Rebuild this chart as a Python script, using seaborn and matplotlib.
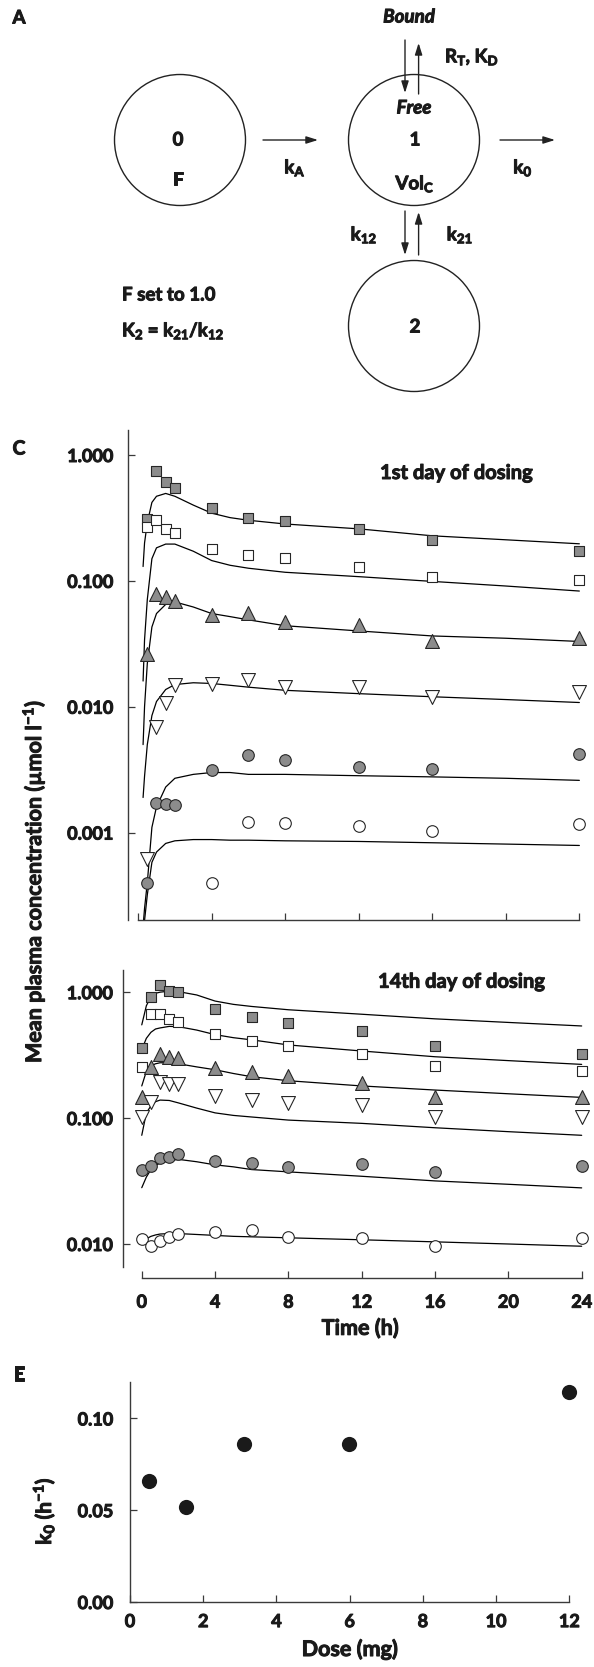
import matplotlib
matplotlib.use('Agg')
import matplotlib.pyplot as plt
import matplotlib.patheffects as pe
from matplotlib.patches import Circle
from matplotlib.text import Text
from matplotlib.ticker import FixedLocator, FixedFormatter, NullLocator
import seaborn as sns

sns.set_style('ticks')
plt.rcParams['font.family'] = ['Lato', 'DejaVu Sans']
plt.rcParams['font.weight'] = 'bold'
plt.rcParams['mathtext.fontset'] = 'custom'
plt.rcParams['mathtext.rm'] = 'Lato:bold'
plt.rcParams['mathtext.it'] = 'Lato:bold:italic'
plt.rcParams['mathtext.bf'] = 'Lato:bold'

BOLD = 'bold'

# ---- panel C, 1st day of dosing: observed means (umol/l) ----
t_d1 = [0.5, 1, 1.5, 2, 4, 6, 8, 12, 16, 24]
gsq_d1 = [0.309, 0.751, 0.614, 0.544, 0.377, 0.314, 0.299, 0.257, 0.212, 0.174]
osq_d1 = [0.270, 0.305, 0.259, 0.239, 0.178, 0.161, 0.153, 0.130, 0.107, 0.102]
gtri_d1 = [0.0263, 0.0788, 0.0738, 0.0686, 0.0540, 0.0560, 0.0470, 0.0448, 0.0334, 0.0351]
otri_d1 = [0.00062, 0.0069, 0.0107, 0.0150, 0.0152, 0.0162, 0.0143, 0.0143, 0.0119, 0.0132]
gcir_d1 = [0.00040, 0.00172, 0.00169, 0.00166, 0.00316, 0.00411, 0.00380, 0.00330, 0.00322, 0.00421]
t_ocir_d1 = [4, 6, 8, 12, 16, 24]
ocir_d1 = [0.00040, 0.00121, 0.00119, 0.00112, 0.00102, 0.00117]

# model curves, day 1
tfit_d1 = [0.27, 0.35, 0.5, 0.75, 1, 1.5, 2, 3, 4, 5, 6, 8, 12, 16, 20, 24]
fit_gsq_d1 = [0.13, 0.20, 0.29, 0.42, 0.47, 0.495, 0.47, 0.40, 0.345, 0.318, 0.303, 0.283, 0.259, 0.228, 0.212, 0.197]
fit_osq_d1 = [0.016, 0.034, 0.071, 0.15, 0.183, 0.196, 0.196, 0.172, 0.145, 0.133, 0.126, 0.117, 0.108, 0.099, 0.091, 0.083]
fit_gtri_d1 = [0.005, 0.010, 0.022, 0.043, 0.055, 0.065, 0.068, 0.062, 0.055, 0.052, 0.049, 0.044, 0.040, 0.0365, 0.035, 0.033]
fit_otri_d1 = [0.0019, 0.0028, 0.005, 0.0085, 0.011, 0.0137, 0.0150, 0.0155, 0.0153, 0.0148, 0.0143, 0.0135, 0.0127, 0.0120, 0.0114, 0.0108]
fit_gcir_d1 = [0.00018, 0.00025, 0.0004, 0.0011, 0.0016, 0.0023, 0.0027, 0.0029, 0.0030, 0.0030, 0.0029, 0.0029, 0.00283, 0.00277, 0.0027, 0.0026]
fit_ocir_d1 = [0.00015, 0.0002, 0.00032, 0.00058, 0.0007, 0.00082, 0.00086, 0.00088, 0.00088, 0.00087, 0.00087, 0.00086, 0.00085, 0.00083, 0.00081, 0.00079]

# ---- panel C, 14th day of dosing ----
t_d14 = [0, 0.5, 1, 1.5, 2, 4, 6, 8, 12, 16, 24]
gsq_d14 = [0.358, 0.923, 1.14, 1.03, 1.0, 0.736, 0.632, 0.573, 0.492, 0.376, 0.321]
osq_d14 = [0.253, 0.672, 0.672, 0.610, 0.584, 0.465, 0.410, 0.376, 0.323, 0.259, 0.236]
gtri_d14 = [0.148, 0.256, 0.321, 0.304, 0.298, 0.249, 0.234, 0.216, 0.191, 0.148, 0.148]
otri_d14 = [0.102, 0.135, 0.194, 0.186, 0.186, 0.150, 0.139, 0.131, 0.127, 0.102, 0.102]
gcir_d14 = [0.0386, 0.0415, 0.0478, 0.0487, 0.0517, 0.0457, 0.0441, 0.0410, 0.0428, 0.0372, 0.0415]
ocir_d14 = [0.0110, 0.0096, 0.0105, 0.0114, 0.0121, 0.0125, 0.0130, 0.0114, 0.0112, 0.0096, 0.0112]

tfit_d14 = [0, 0.25, 0.5, 0.75, 1, 1.5, 2, 3, 4, 5, 6, 8, 12, 16, 20, 24]
fit_gsq_d14 = [0.55, 0.78, 0.92, 0.98, 1.0, 1.02, 1.01, 0.95, 0.85, 0.80, 0.77, 0.725, 0.668, 0.614, 0.575, 0.539]
fit_osq_d14 = [0.35, 0.43, 0.48, 0.51, 0.52, 0.535, 0.532, 0.50, 0.46, 0.435, 0.418, 0.381, 0.341, 0.307, 0.286, 0.267]
fit_gtri_d14 = [0.18, 0.235, 0.26, 0.27, 0.275, 0.275, 0.27, 0.255, 0.242, 0.226, 0.213, 0.198, 0.180, 0.167, 0.156, 0.146]
fit_otri_d14 = [0.073, 0.11, 0.125, 0.135, 0.139, 0.138, 0.132, 0.12, 0.11, 0.105, 0.102, 0.0964, 0.0908, 0.0838, 0.078, 0.073]
fit_gcir_d14 = [0.028, 0.034, 0.039, 0.042, 0.044, 0.046, 0.047, 0.045, 0.0425, 0.041, 0.039, 0.0374, 0.0345, 0.0317, 0.0298, 0.0279]
fit_ocir_d14 = [0.0105, 0.011, 0.0115, 0.0118, 0.012, 0.0121, 0.0121, 0.0119, 0.0117, 0.0115, 0.0114, 0.0112, 0.0108, 0.0104, 0.0100, 0.0096]

# ---- panel E ----
dose_mg = [0.52, 1.52, 3.12, 5.97, 12.0]
k0_per_h = [0.0657, 0.0516, 0.0862, 0.0863, 0.1146]

conc_ticks = [0.001, 0.01, 0.1, 1.0]
conc_labels = ['0.001', '0.010', '0.100', '1.000']
time_ticks = [0, 4, 8, 12, 16, 20, 24]

W, H = 594, 1667
GRAY = '#8c8c8c'
EDGE = '#262626'
SPINE = '#3a3a3a'
INK = '#1a1a1a'


def rect(x0, y0, x1, y1):
    return [x0 / W, 1 - y1 / H, (x1 - x0) / W, (y1 - y0) / H]


fig = plt.figure(figsize=(W / 100, H / 100), dpi=100)

# ---------------- panel A: compartment scheme ----------------
axA = fig.add_axes([0, 1 - 440 / H, 1, 440 / H])
axA.set_xlim(0, W)
axA.set_ylim(440, 0)
axA.axis('off')
for cx, cy in [(180, 140), (414, 140), (414, 326)]:
    axA.add_patch(Circle((cx, cy), 65.5, fill=False, lw=1.0, ec='#222222'))

arrow = dict(arrowstyle='-|>,head_length=0.7,head_width=0.22', color='#222222',
             lw=1.0, shrinkA=0, shrinkB=0)
for start, end in [((405, 40), (405, 93)), ((418.6, 94), (418.6, 43)),
                   ((263, 140), (318, 140)), ((500, 140), (555, 140)),
                   ((405, 211), (405, 255)), ((418.6, 255), (418.6, 212))]:
    axA.annotate('', xy=end, xytext=start, arrowprops=arrow)

fsA = 13.5
txt = dict(fontsize=fsA, fontweight=BOLD, color=INK, va='center')
axA.text(19, 18, 'A', ha='center', **txt)
axA.text(409, 17, 'Bound', ha='center', style='italic', **txt)
axA.text(445, 57, r'R$_\mathrm{T}$, K$_\mathrm{D}$', ha='left', **txt)
axA.text(414, 108, 'Free', ha='center', style='italic', **txt)
axA.text(178, 140, '0', ha='center', **txt)
axA.text(178, 180, 'F', ha='center', **txt)
axA.text(295, 168, r'k$_\mathrm{A}$', ha='center', **txt)
axA.text(415, 140, '1', ha='center', **txt)
axA.text(415, 184, r'Vol$_\mathrm{C}$', ha='center', **txt)
axA.text(523, 168, r'k$_\mathrm{0}$', ha='center', **txt)
axA.text(364, 235, r'k$_\mathrm{12}$', ha='center', **txt)
axA.text(460, 235, r'k$_\mathrm{21}$', ha='center', **txt)
axA.text(415, 327, '2', ha='center', **txt)
axA.text(122, 295, 'F set to 1.0', ha='left', **txt)
axA.text(122, 331, r'K$_\mathrm{2}$ = k$_\mathrm{21}$/k$_\mathrm{12}$', ha='left', **txt)


# ---------------- panel C ----------------
def draw_day(ax, t_obs, obs, t_fit, fits):
    for vals in fits:
        sns.lineplot(x=t_fit, y=vals, ax=ax, color='black', lw=0.9,
                     estimator=None, sort=False, zorder=2)
    for t, vals, mk, fc, s in obs:
        sns.scatterplot(x=t, y=vals, ax=ax, marker=mk, s=s, color=fc,
                        edgecolor=EDGE, linewidth=0.8, zorder=3)


def style_conc_axis(ax, ylim, xlim, ypad):
    ax.set_yscale('log')
    ax.set_ylim(*ylim)
    ax.set_xlim(*xlim)
    ax.yaxis.set_major_locator(FixedLocator(conc_ticks))
    ax.yaxis.set_major_formatter(FixedFormatter(conc_labels))
    ax.yaxis.set_minor_locator(NullLocator())
    ax.set_xticks(time_ticks)
    sns.despine(ax=ax)
    ax.spines['bottom'].set_bounds(0, 24)
    for sp in ['left', 'bottom']:
        ax.spines[sp].set_color(SPINE)
        ax.spines[sp].set_linewidth(1.0)
    ax.tick_params(axis='both', direction='in', length=5, width=0.9,
                   color=SPINE, labelsize=13, labelcolor=INK)
    ax.tick_params(axis='y', pad=ypad)
    ax.set_xlabel('')
    ax.set_ylabel('')


axC1 = fig.add_axes(rect(128, 430, 586.7, 920))
draw_day(axC1, t_d1,
         [(t_d1, gsq_d1, 's', GRAY, 56), (t_d1, osq_d1, 's', 'white', 56),
          (t_d1, gtri_d1, '^', GRAY, 100), (t_d1, otri_d1, 'v', 'white', 100),
          (t_d1, gcir_d1, 'o', GRAY, 70), (t_ocir_d1, ocir_d1, 'o', 'white', 70)],
         tfit_d1,
         [fit_gsq_d1, fit_osq_d1, fit_gtri_d1, fit_otri_d1, fit_gcir_d1, fit_ocir_d1])
style_conc_axis(axC1, (2.02e-4, 1.58), (-0.55, 24.4), 10.5)
axC1.tick_params(axis='x', labelbottom=False)
axC1.text((380 - 128) / (586.7 - 128), 1 - (473 - 430) / 490, '1st day of dosing',
          transform=axC1.transAxes, ha='left', va='center', fontsize=14.5,
          fontweight=BOLD, color=INK)

axC2 = fig.add_axes(rect(122.7, 970, 589.0, 1267.3))
draw_day(axC2, t_d14,
         [(t_d14, gsq_d14, 's', GRAY, 56), (t_d14, osq_d14, 's', 'white', 56),
          (t_d14, gtri_d14, '^', GRAY, 100), (t_d14, otri_d14, 'v', 'white', 100),
          (t_d14, gcir_d14, 'o', GRAY, 70), (t_d14, ocir_d14, 'o', 'white', 70)],
         tfit_d14,
         [fit_gsq_d14, fit_osq_d14, fit_gtri_d14, fit_otri_d14, fit_gcir_d14, fit_ocir_d14])
style_conc_axis(axC2, (0.00653, 1.50), (-1.04, 24.4), 7)
axC2.spines['bottom'].set_position(('outward', 8))
axC2.tick_params(axis='x', pad=11)
axC2.set_xlabel('Time (h)', fontsize=15.5, fontweight=BOLD, color=INK)
axC2.xaxis.set_label_coords((360 - 122.7) / (589.0 - 122.7), -(1328 - 1267.3) / 297.3)
axC2.xaxis.label.set_va('center')
axC2.text((378 - 122.7) / (589.0 - 122.7), 1 - (981.7 - 970) / 297.3, '14th day of dosing',
          transform=axC2.transAxes, ha='left', va='center', fontsize=14.5,
          fontweight=BOLD, color=INK)

fig.text(19 / W, 1 - 449 / H, 'C', ha='center', va='center', fontsize=14,
         fontweight=BOLD, color=INK)
fig.text(33 / W, 1 - 1063 / H, 'Mean plasma concentration (µmol l$^{-1}$)',
         rotation=90, ha='center', va='bottom', fontsize=15.5, fontweight=BOLD,
         color=INK)

# ---------------- panel E ----------------
axE = fig.add_axes(rect(130, 1381.7, 569.3, 1602))
sns.scatterplot(x=dose_mg, y=k0_per_h, ax=axE, s=120, color=INK,
                edgecolor=INK, linewidth=0, clip_on=False, zorder=3)
axE.set_xlim(0, 12)
axE.set_ylim(0, 0.12)
axE.set_xticks(range(0, 13, 2))
axE.set_yticks([0.0, 0.05, 0.10])
axE.set_yticklabels(['0.00', '0.05', '0.10'])
sns.despine(ax=axE)
for sp in ['left', 'bottom']:
    axE.spines[sp].set_color(SPINE)
    axE.spines[sp].set_linewidth(1.0)
axE.tick_params(axis='both', direction='in', length=5, width=0.9, color=SPINE,
                labelsize=13, labelcolor=INK)
axE.tick_params(axis='y', pad=12)
axE.tick_params(axis='x', pad=8)
axE.set_xlabel('Dose (mg)', fontsize=15.5, fontweight=BOLD, color=INK)
axE.xaxis.set_label_coords(0.5, -(1649 - 1602) / 220.3)
axE.xaxis.label.set_va('center')
axE.set_ylabel(r'k$_\mathrm{0}$ (h$^{-1}$)', fontsize=15, fontweight=BOLD, color=INK)
axE.yaxis.set_label_coords(-(130 - 44) / 439.3, 1 - (1511 - 1381.7) / 220.3)
axE.yaxis.label.set_ha('center')
axE.yaxis.label.set_va('center')
fig.text(19 / W, 1 - 1375 / H, 'E', ha='center', va='center', fontsize=14,
         fontweight=BOLD, color=INK)

# Gill Sans bold in the original is heavier than Lato Bold: thicken all text a bit
heavy = [pe.withStroke(linewidth=0.7, foreground=INK)]
for t in fig.findobj(Text):
    t.set_path_effects(heavy)

fig.savefig('out.png', dpi=100)
